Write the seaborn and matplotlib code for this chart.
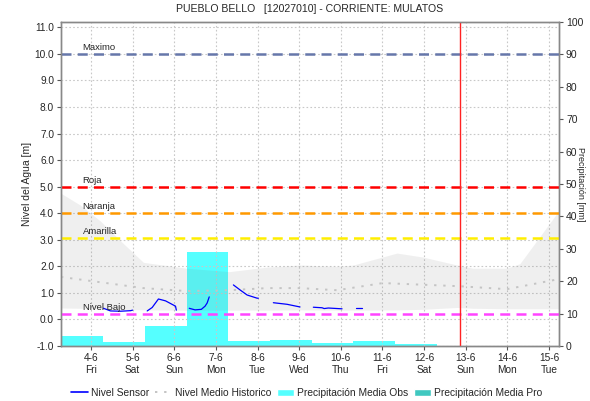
import numpy as np
import pandas as pd
import matplotlib
matplotlib.use("Agg")
import matplotlib.pyplot as plt
import seaborn as sns
from matplotlib.ticker import MultipleLocator, FormatStrFormatter
from matplotlib.lines import Line2D
from matplotlib.patches import Patch

# eje x en dias, 0 = 4-6
dias = ["4-6", "5-6", "6-6", "7-6", "8-6", "9-6", "10-6", "11-6", "12-6", "13-6", "14-6", "15-6"]
semana = ["Fri", "Sat", "Sun", "Mon", "Tue", "Wed", "Thu", "Fri", "Sat", "Sun", "Mon", "Tue"]

# precipitacion observada [mm] por dia (incluye 3-6 recortado al borde)
precip_dia = [-1, 0, 1, 2, 3, 4, 5, 6, 7, 8]
precip_obs = [9.6, 3.1, 1.3, 6.2, 29.0, 1.5, 2.0, 1.0, 1.6, 0.7]

# banda historica (max / min) y nivel medio
banda_x = [-0.72, -0.25, 0.23, 0.75, 1.26, 2.29, 3.32, 4.23, 5.02, 5.91, 6.3, 7.35, 7.97, 8.79, 9.17, 9.99, 10.3, 11.24]
banda_max = [4.75, 4.3, 3.7, 2.9, 2.15, 1.93, 1.8, 1.97, 2.05, 2.0, 2.05, 2.5, 2.35, 2.05, 1.93, 1.93, 2.1, 4.1]
banda_min = [0.43, 0.42, 0.4, 0.38, 0.36, 0.35, 0.35, 0.35, 0.36, 0.35, 0.35, 0.36, 0.38, 0.45, 0.42, 0.4, 0.4, 0.4]
medio_x = [-0.72, 0.23, 1.26, 2.29, 3.32, 4.23, 5.02, 5.91, 7.01, 8.86, 9.99, 11.24]
medio = [1.6, 1.4, 1.18, 1.07, 1.1, 1.18, 1.18, 1.1, 1.37, 1.25, 1.14, 1.52]

# nivel sensor por tramos
sensor_x = [0.30, 0.47, 0.71, 0.95, 1.0,
            1.35, 1.47, 1.62, 1.79, 2.03, 2.05,
            2.36, 2.5, 2.65, 2.74, 2.79, 2.84,
            3.42, 3.59, 3.75, 3.99, 4.02,
            4.38, 4.71, 5.02,
            5.34, 5.55, 5.6, 5.7, 6.03,
            6.37, 6.51]
sensor_y = [0.42, 0.32, 0.31, 0.33, 0.35,
            0.32, 0.45, 0.77, 0.7, 0.5, 0.35,
            0.42, 0.36, 0.38, 0.5, 0.62, 0.85,
            1.3, 1.1, 0.92, 0.8, 0.8,
            0.63, 0.57, 0.47,
            0.46, 0.44, 0.41, 0.43, 0.40,
            0.43, 0.43]
sensor_tramo = [1] * 5 + [2] * 6 + [3] * 6 + [4] * 5 + [5] * 3 + [6] * 5 + [7] * 2

# umbrales
umbral_nombre = ["Maximo", "Roja", "Naranja", "Amarilla", "Nivel Bajo"]
umbral_valor = [10.0, 5.0, 4.0, 3.07, 0.2]
umbral_color = ["#6677aa", "#ff0000", "#ff9900", "#ffee00", "#ff44ff"]

ahora = 8.86

sns.set_style("white")
plt.rcParams["font.family"] = ["Liberation Sans", "DejaVu Sans"]

fig = plt.figure(figsize=(5.9, 4.01), dpi=100)
ax = fig.add_axes([61 / 590, 1 - 346 / 401, 498 / 590, 324 / 401])
ax2 = ax.twinx()
ax.set_zorder(ax2.get_zorder() + 1)
ax.patch.set_visible(False)

# barras de precipitacion (eje derecho)
ax2.bar(np.array(precip_dia) - 0.2, precip_obs, width=1.0, color="#55ffff", linewidth=0)
ax2.set_ylim(0, 100)
ax2.yaxis.set_major_locator(MultipleLocator(10))
ax2.tick_params(axis="y", labelsize=7.5, length=3, direction="out", color="#555555", pad=2)
ax2.set_ylabel("Precipitación [mm]", rotation=270, fontsize=6.5, labelpad=6)
ax2.yaxis.set_label_coords(1.053, 0.5)

# banda historica
ax.fill_between(banda_x, banda_min, banda_max, color="#808080", alpha=0.12, linewidth=0)
sns.lineplot(x=medio_x, y=medio, ax=ax, color="#c4c4c4", linestyle=(0, (1.2, 3.5)), linewidth=1.4)

df_sensor = pd.DataFrame({"dia": sensor_x, "nivel": sensor_y, "tramo": sensor_tramo})
sns.lineplot(data=df_sensor, x="dia", y="nivel", units="tramo", estimator=None,
             ax=ax, color="#0000ff", linewidth=0.9)

for nombre, valor, color in zip(umbral_nombre, umbral_valor, umbral_color):
    ax.axhline(valor, color=color, linestyle=(0, (4, 2.5)), linewidth=1.8)
    ax.text(-0.2, valor + 0.07, nombre, fontsize=6.8, va="bottom", ha="left")

ax.axvline(ahora, color="#ff2222", linewidth=1)

ax.set_xlim(-0.72, 11.24)
ax.set_ylim(-1.0, 11.2)
ax.yaxis.set_major_locator(MultipleLocator(1.0))
ax.yaxis.set_major_formatter(FormatStrFormatter("%.1f"))
ax.set_xticks(range(len(dias)))
ax.set_xticklabels([d + "\n" + s for d, s in zip(dias, semana)])
ax.xaxis.set_minor_locator(MultipleLocator(1 / 12))
ax.tick_params(axis="x", which="major", labelsize=7.3, length=3, color="#555555", pad=2)
ax.tick_params(axis="x", which="minor", length=1.5, color="#555555")
ax.tick_params(axis="y", labelsize=7.3, length=3, color="#555555", direction="out", pad=2)
ax.tick_params(axis="both", bottom=True, left=True)
ax.set_xlabel("")
ax.set_ylabel("Nivel del Agua [m]", fontsize=7.5, labelpad=2)
ax.grid(True, color="#c8c8c8", linestyle=(0, (1.5, 2)), linewidth=0.8)

for a in (ax, ax2):
    for s in a.spines.values():
        s.set_color("#888888")
        s.set_linewidth(1)

fig.suptitle("PUEBLO BELLO   [12027010] - CORRIENTE: MULATOS", fontsize=7.6, x=0.525, y=0.99)

handles = [Line2D([0], [0], color="#0000ff", linewidth=1.2),
           Line2D([0], [0], color="#c4c4c4", linestyle=(0, (1.2, 3.5)), linewidth=1.4),
           Patch(facecolor="#55ffff"),
           Patch(facecolor="#40c8c0")]
labels = ["Nivel Sensor", "Nivel Medio Historico", "Precipitación Media Obs", "Precipitación Media Pro"]
fig.legend(handles, labels, loc="center", bbox_to_anchor=(0.52, 0.02), ncol=4, frameon=False,
           fontsize=7.4, handlelength=1.6, handletextpad=0.3, columnspacing=0.6)

fig.savefig("out.png", dpi=100)
